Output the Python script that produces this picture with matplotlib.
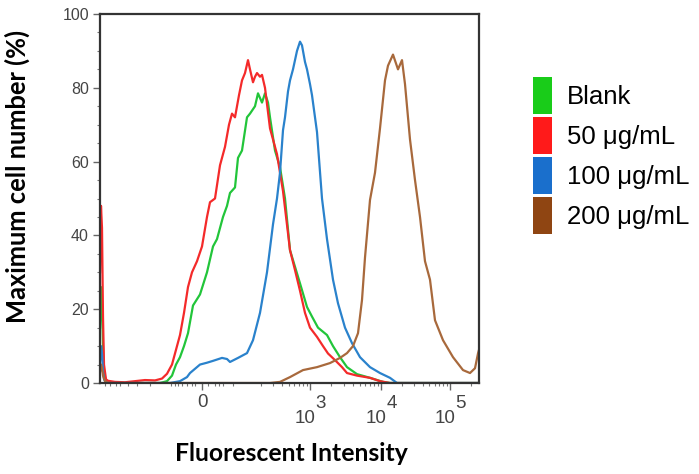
import numpy as np
import matplotlib
matplotlib.use('Agg')
import matplotlib.pyplot as plt
from matplotlib.patches import Patch

plt.rcParams['font.family'] = ['Liberation Sans', 'DejaVu Sans']

# x 轴是流式的双指数显示, 这里用显示通道 (0..379) 记录, 刻度另外标
ch_max = 379
major_pos = [102, 210, 281, 350]
major_exp = [None, '3', '4', '5']   # None -> 直接写 "0"
lin_minor = [5, 10, 16, 20, 28, 37, 50, 71, 75, 78, 82, 87, 92, 95, 108, 115, 119, 123, 133]

# Blank
g_x = [0, 1, 2, 3, 4, 6, 10, 60, 67, 72, 76, 80, 84, 88, 93, 100, 107, 113, 117, 123, 127, 130, 135, 138,
       142, 147, 150, 155, 158, 162, 165, 168, 170, 175, 180, 185, 190, 200, 207, 212, 218, 227, 233,
       240, 247, 257, 270, 283, 290, 379]
g_y = [15, 26, 22, 10, 3, 0.3, 0, 0, 0.5, 2, 5, 7, 10, 13.5, 21, 24, 30, 37, 39, 45, 48, 51.5, 53, 61,
       63, 72, 73, 75, 78.5, 76, 78.5, 76, 72, 63, 58.5, 50, 36, 27, 20.6, 18, 15, 13, 10,
       7, 4.3, 2.4, 1.4, 0.3, 0, 0]
# 50 ug/mL
r_x = [0, 1, 2, 3, 4, 6, 8, 15, 25, 35, 45, 55, 62, 67, 72, 76, 80, 84, 88, 92, 97, 102, 107, 110, 115,
       120, 125, 129, 132, 135, 139, 142, 145, 148, 150, 153, 155, 157, 160, 162, 165, 170, 177, 183,
       190, 195, 200, 205, 210, 217, 223, 228, 235, 242, 247, 257, 270, 280, 290, 379]
r_y = [30, 48, 42, 18, 5, 1, 0.6, 0.3, 0.2, 0.5, 0.8, 0.7, 1.2, 2.5, 5, 9, 13, 19, 26, 30, 33, 37, 45, 49, 50,
       59, 64, 70, 73, 72, 78, 82, 84, 87.5, 85, 81.5, 83, 84, 83, 83.5, 80, 69, 62, 52,
       36, 30.6, 25, 19, 15, 12.5, 10, 8, 6.2, 4.3, 2.7, 2, 1.4, 0.5, 0, 0]
# 100 ug/mL
b_x = [0, 1, 2, 3, 4, 6, 70, 80, 87, 90, 100, 107, 113, 122, 127, 130, 138, 147, 153, 160, 167, 173, 177,
       180, 183, 185, 188, 190, 193, 197, 200, 202, 205, 207, 210, 212, 217, 222, 227, 233, 238, 245,
       252, 260, 270, 280, 290, 297, 379]
b_y = [6, 10, 8, 3, 1, 0, 0, 0.5, 1.6, 2.7, 5, 5.5, 6, 6.8, 6.5, 5.7, 6.8, 8.1, 11.6, 19, 30, 43, 50,
       57, 68.5, 72, 79, 82, 85, 90, 92.5, 91.5, 87, 85, 81, 78, 68, 50, 39, 28, 21.6, 15,
       10.8, 7, 4.3, 2.7, 1.4, 0, 0]
# 200 ug/mL
n_x = [0, 1, 2, 3, 5, 7, 170, 180, 190, 203, 217, 230, 240, 247, 253, 258, 262, 265, 270, 275, 280, 285,
       288, 293, 298, 302, 305, 310, 315, 320, 325, 330, 335, 343, 353, 363, 370, 375, 378, 379]
n_y = [3, 5, 4, 2, 0.5, 0, 0, 0.3, 1.6, 3.5, 4.3, 5.4, 6.8, 8.1, 10, 13.5, 22.5, 34, 49.6, 57, 69, 82,
       86, 89, 85, 87.5, 81, 66, 55, 45, 33, 28, 17, 11.6, 7, 3.5, 2.7, 4, 8, 9]

labels = ['Blank', '50 μg/mL', '100 μg/mL', '200 μg/mL']
line_cols = ['#22c53a', '#f42a2a', '#2a82cc', '#a8693c']
patch_cols = ['#19cc19', '#ff1a1a', '#1a6fcc', '#8f4512']

fig = plt.figure(figsize=(6.99, 4.74), dpi=100)
ax = fig.add_axes([100 / 699, 1 - 383 / 474, 379 / 699, 369 / 474])

for xs, ys, c in [(g_x, g_y, line_cols[0]), (r_x, r_y, line_cols[1]),
                  (b_x, b_y, line_cols[2]), (n_x, n_y, line_cols[3])]:
    ax.plot(xs, ys, color=c, lw=1.6, solid_joinstyle='round')

ax.set_xlim(0, ch_max); ax.set_ylim(0, 100)
ax.set_yticks(np.arange(0, 101, 20))
ax.set_yticks(np.arange(0, 101, 5), minor=True)
ax.set_xticks(major_pos)
ax.set_xticklabels(['0' if e is None else '' for e in major_exp])
logm = np.log10(np.arange(2, 10))
minor = list(lin_minor) + list(210 + (logm - 1) * 70) + list(210 + logm * 71) + list(281 + logm * 69) \
    + list(350 + logm[:1] * 69)
ax.set_xticks([m for m in minor if m < ch_max], minor=True)
ax.tick_params(which='major', length=5, width=1, color='#666666', labelcolor='#444444',
               labelsize=11.5, pad=3)
ax.tick_params(axis='x', which='major', labelsize=13.5, pad=3)
ax.tick_params(which='minor', length=2.5, width=0.8, color='#777777')
for s in ax.spines.values():
    s.set_color('#333333'); s.set_linewidth(1.6)

# 10^n 的指数和底数差不多大, 用两段文字拼
for p, e in zip(major_pos, major_exp):
    if e is None:
        continue
    ax.annotate('10', (p, 0), xycoords=('data', 'axes fraction'), xytext=(4, -19.5),
                textcoords='offset points', ha='right', va='top', fontsize=13.5, color='#444444')
    ax.annotate(e, (p, 0), xycoords=('data', 'axes fraction'), xytext=(4, -8.5),
                textcoords='offset points', ha='left', va='top', fontsize=13.5, color='#444444')

ax.set_ylabel('Maximum cell number (%)', family=['Lato', 'DejaVu Sans'], fontweight='bold',
              fontsize=18.4)
ax.yaxis.set_label_coords(-0.185, 0.561)
ax.set_xlabel('Fluorescent Intensity', family=['Lato', 'DejaVu Sans'], fontweight='bold',
              fontsize=17.8)
ax.xaxis.set_label_coords(0.504, -0.16)

handles = [Patch(facecolor=c, edgecolor='none') for c in patch_cols]
fig.legend(handles, labels, loc='upper left', bbox_to_anchor=(533 / 699, 1 - 77 / 474),
           frameon=False, fontsize=18.5, handlelength=0.74, handleheight=1.84,
           handletextpad=0.58, labelspacing=0.12, borderpad=0, borderaxespad=0)

plt.savefig('out.png', dpi=100)
